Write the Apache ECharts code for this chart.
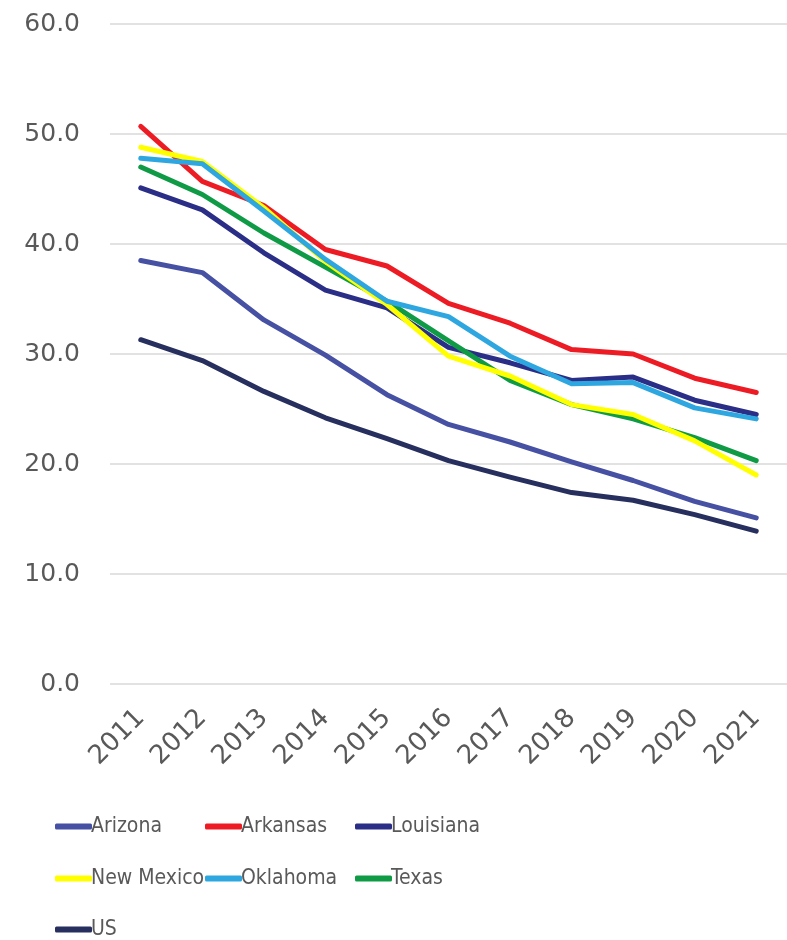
<!DOCTYPE html>
<html>
<head>
<meta charset="utf-8">
<script src="https://cdn.jsdelivr.net/npm/echarts@6/dist/echarts.min.js"></script>
<style>
html,body{margin:0;padding:0;background:#fff;}
#Charts{width:787px;height:940px;}
</style>
</head>
<body>
<div id="Charts"></div>
<script>
var years = ['2011','2012','2013','2014','2015','2016','2017','2018','2019','2020','2021'];
var arizona   = [38.5, 37.4, 33.1, 29.9, 26.3, 23.6, 22.0, 20.2, 18.5, 16.6, 15.1];
var arkansas  = [50.7, 45.7, 43.5, 39.5, 38.0, 34.6, 32.8, 30.4, 30.0, 27.8, 26.5];
var louisiana = [45.1, 43.1, 39.2, 35.8, 34.2, 30.6, 29.2, 27.6, 27.9, 25.8, 24.5];
var newMexico = [48.8, 47.5, 43.3, 38.4, 34.5, 29.8, 28.0, 25.4, 24.5, 22.1, 19.0];
var oklahoma  = [47.8, 47.3, 43.0, 38.6, 34.8, 33.4, 29.8, 27.3, 27.4, 25.1, 24.1];
var texas     = [47.0, 44.5, 41.0, 37.9, 34.8, 31.2, 27.6, 25.4, 24.1, 22.4, 20.3];
var us        = [31.3, 29.4, 26.6, 24.2, 22.3, 20.3, 18.8, 17.4, 16.7, 15.4, 13.9];
var yTicks = [0, 10, 20, 30, 40, 50, 60];

var names  = ['Arizona','Arkansas','Louisiana','New Mexico','Oklahoma','Texas','US'];
var values = [arizona, arkansas, louisiana, newMexico, oklahoma, texas, us];
var colors = ['#4651a3','#ed1c24','#2b2e86','#ffff00','#2ea7e0','#0f9b45','#262f5e'];

var legendFont = '"DejaVu Sans Condensed", "Liberation Sans", sans-serif';
var series = [];
for (var i = 0; i < names.length; i++) {
	series.push({
		name: names[i],
		type: 'line',
		data: values[i],
		symbol: 'none',
		lineStyle: {width: 5, color: colors[i], cap: 'round', join: 'round'},
		itemStyle: {color: colors[i]}
	});
}
// draw order: keep yellow under cyan like the picture
series = [series[0], series[1], series[2], series[5], series[3], series[4], series[6]];

// one legend per item so the columns line up like the picture
var legendCols = [50, 200, 350];
var legendRows = [811, 863, 914];
var legends = [];
for (var i = 0; i < names.length; i++) {
	legends.push({
		left: legendCols[i % 3],
		top: legendRows[Math.floor(i / 3)],
		itemWidth: 37,
		itemHeight: 6,
		icon: 'roundRect',
		data: [names[i]],
		textStyle: {fontFamily: legendFont, fontSize: 21, color: '#595959', padding: [0,0,0,-6]}
	});
}

var option = {
	animation: false,
	backgroundColor: '#fff',
	legend: legends,
	grid: {left: 110, right: -2, top: 24, bottom: 256},
	xAxis: {
		type: 'category',
		data: years,
		axisLine: {show: false},
		axisTick: {show: false},
		axisLabel: {
			rotate: 45,
			margin: 30,
			fontFamily: 'DejaVu Sans',
			fontSize: 26,
			color: '#595959'
		}
	},
	yAxis: {
		type: 'value',
		min: yTicks[0],
		max: yTicks[yTicks.length - 1],
		interval: 10,
		axisLabel: {
			margin: 30,
			fontFamily: 'DejaVu Sans',
			fontSize: 25,
			color: '#595959',
			formatter: function(v){ return v.toFixed(1); }
		},
		splitLine: {lineStyle: {color: '#d9d9d9', width: 1.5}}
	},
	series: series
};
var myChart = echarts.init(document.getElementById('Charts'));
myChart.setOption(option);
</script>
</body>
</html>
